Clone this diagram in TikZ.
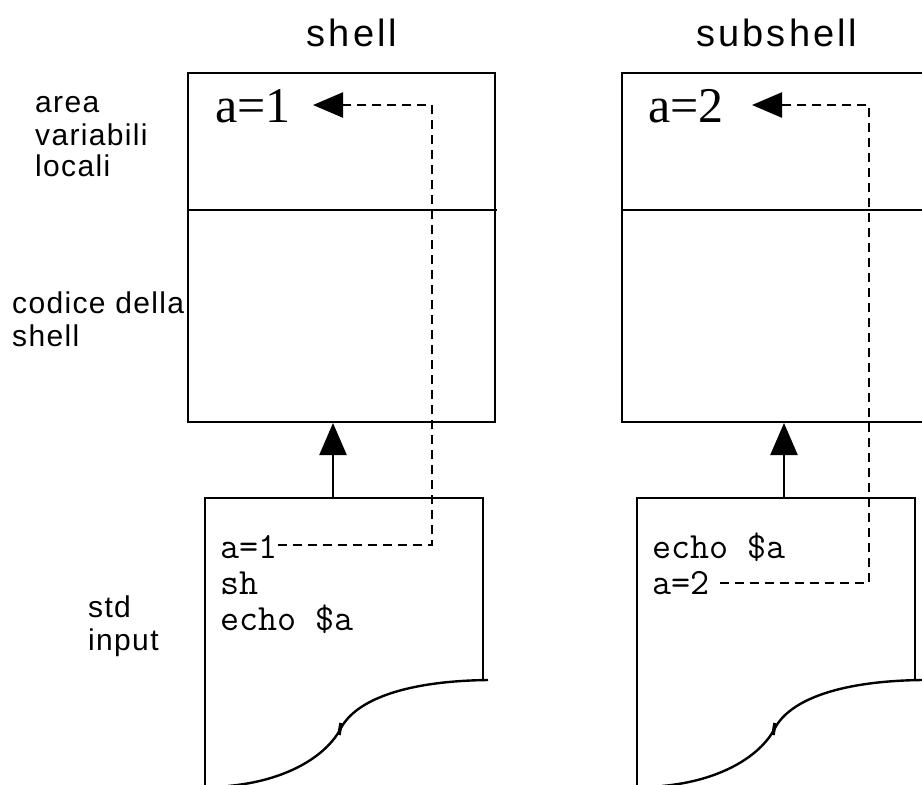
\documentclass[tikz,border=0pt]{standalone}
\usepackage{fontspec}
\setmainfont{Liberation Serif}
\setsansfont{Liberation Sans}
\usetikzlibrary{arrows.meta}
\newfontfamily\titlefont[LetterSpace=8]{Liberation Sans}
\newfontfamily\labelfont[LetterSpace=4.5]{Liberation Sans}
\begin{document}
\begin{tikzpicture}[x=1pt,y=-1pt,
  box/.style={line width=2.4pt},
  dashline/.style={line width=2.4pt, dash pattern=on 9pt off 6pt},
  bigarrow/.style={line width=2.4pt,-{Triangle[length=32pt,width=27pt]}},
  dasharrow/.style={line width=2.4pt, dash pattern=on 9pt off 6pt,-{Triangle[length=30pt,width=25pt]}},
  title/.style={font=\titlefont\fontsize{38}{42}\selectfont, inner sep=0pt},
  lbl/.style={font=\labelfont\fontsize{30}{33}\selectfont, inner sep=0pt, anchor=base west, align=left},
  code/.style={font=\ttfamily\fontsize{37}{40}\selectfont, inner sep=0pt, anchor=base west},
  var/.style={font=\rmfamily\fontsize{50}{54}\selectfont, inner sep=0pt, anchor=base west}]
\useasboundingbox (0,0) rectangle (922,785);
% titles
\node[title] (t1) at (352,33) {shell};
\node[title] (t2) at (777,33) {subshell};
% side labels
\node[lbl] (l1) at (35,112) {area};
\node[lbl] (l2) at (35,145) {variabili};
\node[lbl] (l3) at (35,176) {locali};
\node[lbl] (l4) at (12,313) {codice della};
\node[lbl] (l5) at (12,346) {shell};
\node[lbl] (l6) at (88,617) {std};
\node[lbl] (l7) at (88,650) {input};
% left memory box
\draw[box] (188,73) rectangle (495,422);
\draw[box] (188,210) -- (497,210);
% right memory box (cut at right edge)
\draw[box] (930,73) -- (622,73) -- (622,422) -- (930,422);
\draw[box] (622,210) -- (930,210);
% documents
\draw[box] (205,790) -- (205,498) -- (483,498) -- (483,680);
\draw[box] (488,680) .. controls (405,681) and (356,700) .. (341,728)
  .. controls (326,757) and (285,781) .. (228,786);
\draw[line width=3.5pt] (341,723) -- (339,735);
\draw[box] (637,790) -- (637,498) -- (915,498) -- (915,680);
\draw[box] (922,680) .. controls (839,681) and (790,700) .. (775,728)
  .. controls (760,757) and (719,781) .. (662,786);
\draw[line width=3.5pt] (775,723) -- (773,735);
% variable texts
\node[var] (v1) at (215,122) {a=1};
\node[var] (v2) at (648,122) {a=2};
% code texts
\node[code] (c1) at (220,558) {a=1};
\node[code] (c2) at (220,594) {sh};
\node[code] (c3) at (220,630) {echo \$a};
\node[code] (c4) at (652,558) {echo \$a};
\node[code] (c5) at (652,594) {a=2};
% solid arrows
\coordinate (d1) at (333,498);
\coordinate (b1) at (333,423);
\coordinate (d2) at (784,498);
\coordinate (b2) at (784,423);
\draw[bigarrow] (d1) -- (b1);
\draw[bigarrow] (d2) -- (b2);
% dashed links
\coordinate (k1) at (432,545);
\coordinate (k2) at (432,105);
\coordinate (e1) at (313,105);
\draw[dasharrow] (c1.east |- k1) -- (k1) -- (k2) -- (e1);
\coordinate (k3) at (869,583);
\coordinate (k4) at (869,105);
\coordinate (e2) at (752,105);
\draw[dasharrow] ([xshift=10pt]c5.east |- k3) -- (k3) -- (k4) -- (e2);
\end{tikzpicture}
\end{document}
